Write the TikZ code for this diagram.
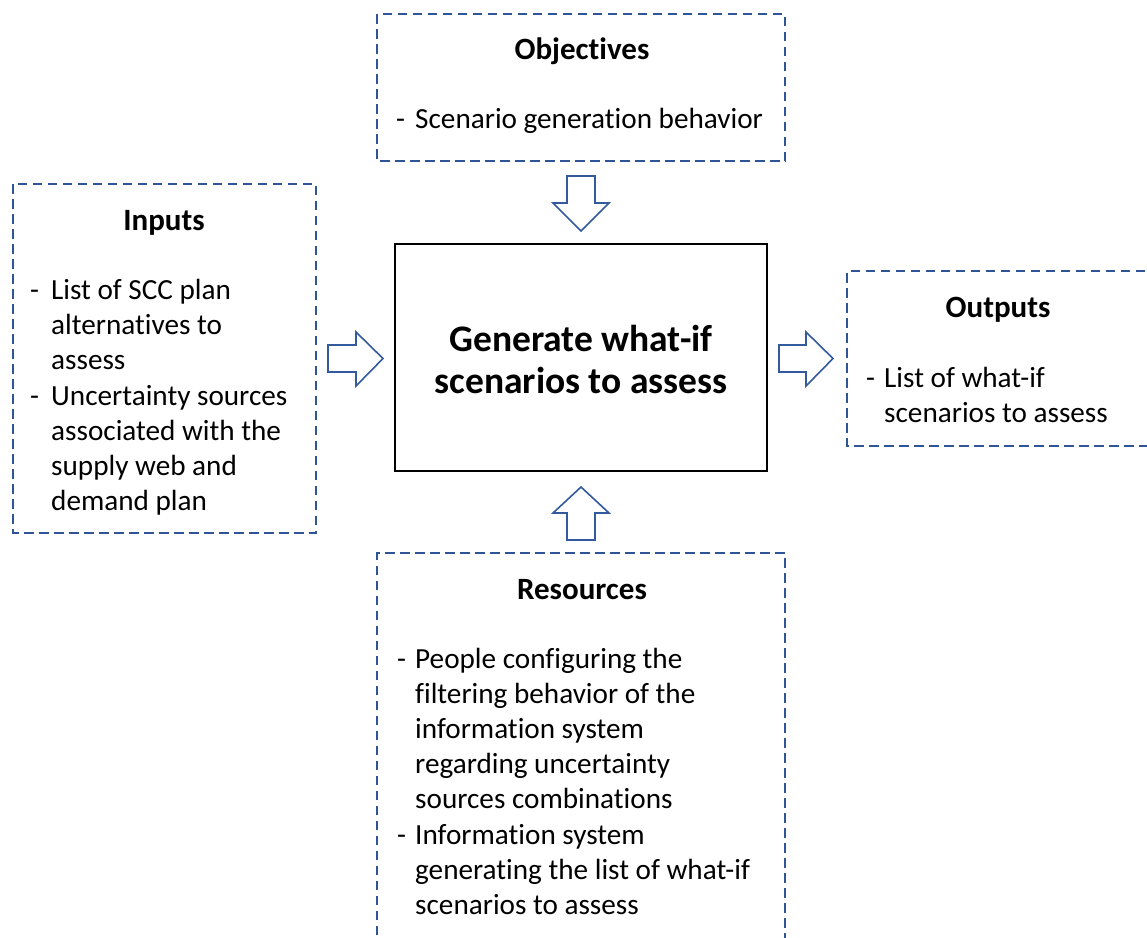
\documentclass[tikz,border=0pt]{standalone}
\usepackage{fontspec}
\setmainfont{Carlito}[RawFeature={-liga;-clig;-calt;-dlig}]
\definecolor{dashblue}{RGB}{47,85,151}
\definecolor{arrowblue}{RGB}{52,90,158}
\newcommand{\lines}[1]{\begin{tabular}[t]{@{}l@{}}#1\end{tabular}}
\begin{document}
\begin{tikzpicture}[x=1pt,y=-1pt,
  dbox/.style={draw=dashblue, line width=2pt, dash pattern=on 9.5pt off 5.5pt},
  mainbox/.style={draw=black, line width=2.4pt},
  blockarrow/.style={draw=arrowblue, line width=1.6pt, line join=miter, fill=white},
  ttl/.style={font=\fontsize{31}{36}\selectfont\bfseries, anchor=base},
  body/.style={font=\fontsize{29.2}{35}\selectfont, anchor=base west, inner sep=0pt},
  dsh/.style={font=\fontsize{29.2}{35}\selectfont, anchor=base west, inner sep=0pt}]
\useasboundingbox (0,0) rectangle (1147,937);
\clip (0,0) rectangle (1147,937);
% boxes
\draw[dbox] (377,14) rectangle (785,161);
\draw[dbox] (13,184) rectangle (316,533);
\draw[dbox] (1160,271) -- (847,271) -- (847,446) -- (1160,446);
\draw[dbox] (377,950) -- (377,553) -- (785,553) -- (785,950);
\node[mainbox, minimum width=372, minimum height=227, inner sep=0pt] (main) at (581,357.5) {};
\node[font=\fontsize{37.5}{42}\selectfont\bfseries, align=center] (maintext) at (581,359) {Generate what-if\\scenarios to assess};
% titles
\node[ttl] (tobj) at (582,59) {Objectives};
\node[ttl] (tin) at (164,230) {Inputs};
\node[ttl] (tout) at (998,317) {Outputs};
\node[ttl] (tres) at (582,599) {Resources};
% objectives body
\node[dsh] (dobj) at (396,128) {-};
\node[body] (bobj) at (415,128) {Scenario generation behavior};
% inputs body
\node[dsh] (din1) at (30,299) {-};
\node[body] (bin1) at (51,299) {\lines{List of SCC plan\\alternatives to\\assess}};
\node[dsh] (din2) at (30,405) {-};
\node[body] (bin2) at (51,405) {\lines{Uncertainty sources\\associated with the\\supply web and\\demand plan}};
% outputs body
\node[dsh] (dout) at (866,387) {-};
\node[body] (bout) at (884,387) {\lines{List of what-if\\scenarios to assess}};
% resources body
\node[dsh] (dres1) at (397,668) {-};
\node[body] (bres1) at (415,668) {\lines{People configuring the\\filtering behavior of the\\information system\\regarding uncertainty\\sources combinations}};
\node[dsh] (dres2) at (397,844) {-};
\node[body] (bres2) at (415,844) {\lines{Information system\\generating the list of what-if\\scenarios to assess}};
% block arrows
\coordinate (adown) at (581,176);
\draw[blockarrow] (567,176) -- (595,176) -- (595,203) -- (609,203) -- (581,231) -- (553,203) -- (567,203) -- cycle;
\coordinate (aup) at (581,540);
\draw[blockarrow] (567,540) -- (595,540) -- (595,513) -- (609,513) -- (581,487) -- (553,513) -- (567,513) -- cycle;
\coordinate (ain) at (328,358);
\draw[blockarrow] (328,345) -- (356,345) -- (356,332) -- (383,358.5) -- (356,386) -- (356,372) -- (328,372) -- cycle;
\coordinate (aout) at (779,358);
\draw[blockarrow] (779,345) -- (806,345) -- (806,332) -- (833,358.5) -- (806,386) -- (806,372) -- (779,372) -- cycle;
\end{tikzpicture}
\end{document}
